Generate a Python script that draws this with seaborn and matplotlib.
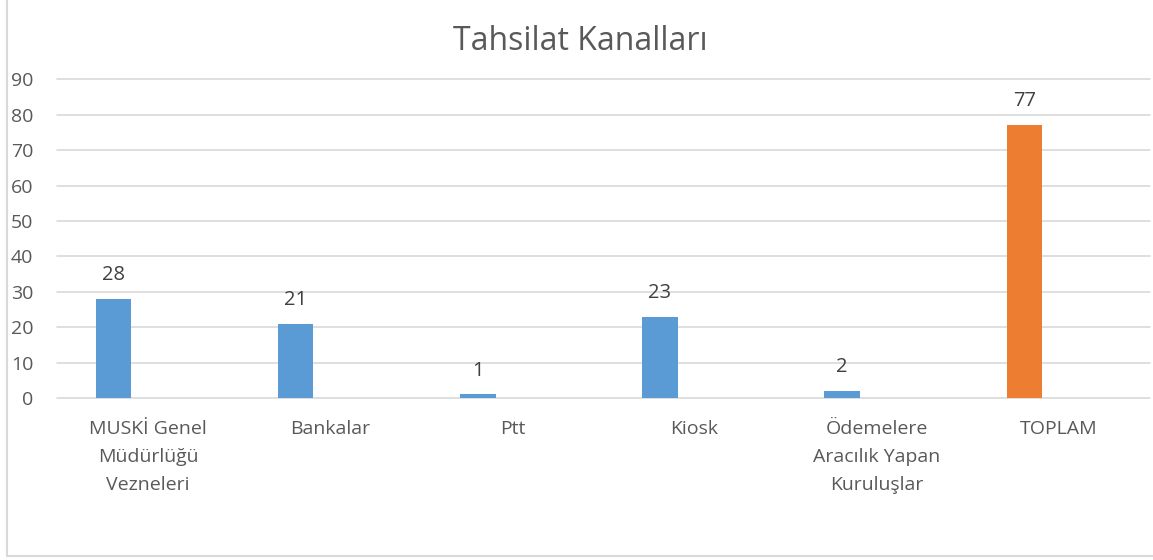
import matplotlib.pyplot as plt
import seaborn as sns
import pandas as pd
from matplotlib.lines import Line2D

# Veriler
kanallar = [
    "MUSKİ Genel\nMüdürlüğü\nVezneleri",
    "Bankalar",
    "Ptt",
    "Kiosk",
    "Ödemelere\nAracılık Yapan\nKuruluşlar",
    "TOPLAM",
]
adetler = [28, 21, 1, 23, 2, 77]
renkler = ["#5B9BD5", "#5B9BD5", "#5B9BD5", "#5B9BD5", "#5B9BD5", "#ED7D31"]
y_ticks = list(range(0, 91, 10))

df = pd.DataFrame({"kanal": kanallar, "adet": adetler})

sns.set_theme(style="white")
plt.rcParams["font.family"] = ["Open Sans", "DejaVu Sans"]

metin = "#595959"
grid = "#D9D9D9"

fig = plt.figure(figsize=(11.53, 5.6), dpi=100)
ax = fig.add_axes([57 / 1153, 1 - 398 / 560, 1093 / 1153, (398 - 79.3) / 560])

genislik = 0.195
sns.barplot(data=df, x="kanal", y="adet", hue="kanal", palette=renkler,
            legend=False, width=genislik, saturation=1, linewidth=0, ax=ax)

# Excel gibi: çubuklar kategori merkezinin solunda
for p in ax.patches:
    p.set_x(p.get_x() - 0.19)

for cont in ax.containers:
    ax.bar_label(cont, padding=10, fontsize=14.5, color="#404040")

ax.set_xlim(-0.5, len(kanallar) - 0.5)
ax.set_ylim(0, 90)
ax.set_yticks(y_ticks)
ax.set(xlabel="", ylabel="")
ax.grid(axis="y", color=grid, linewidth=1.2)
ax.set_axisbelow(True)
sns.despine(ax=ax, left=True, bottom=True)
ax.tick_params(axis="y", length=0, pad=17, labelsize=14, labelcolor=metin)
ax.tick_params(axis="x", length=0, pad=16, labelsize=14, labelcolor=metin)
for lbl in ax.get_xticklabels():
    lbl.set_linespacing(1.72)
for gl in ax.get_ygridlines():
    gl.set_clip_on(False)

fig.text(580 / 1153, 1 - 41 / 560, "Tahsilat Kanalları", ha="center", va="center",
         fontsize=23, color=metin)

# Grafik alanı çerçevesi
fig.add_artist(Line2D([6.5 / 1153, 6.5 / 1153], [4 / 560, 1], color=grid, lw=1.5))
fig.add_artist(Line2D([6.5 / 1153, 1], [4 / 560, 4 / 560], color=grid, lw=1.5))

fig.savefig("out.png", dpi=100)
